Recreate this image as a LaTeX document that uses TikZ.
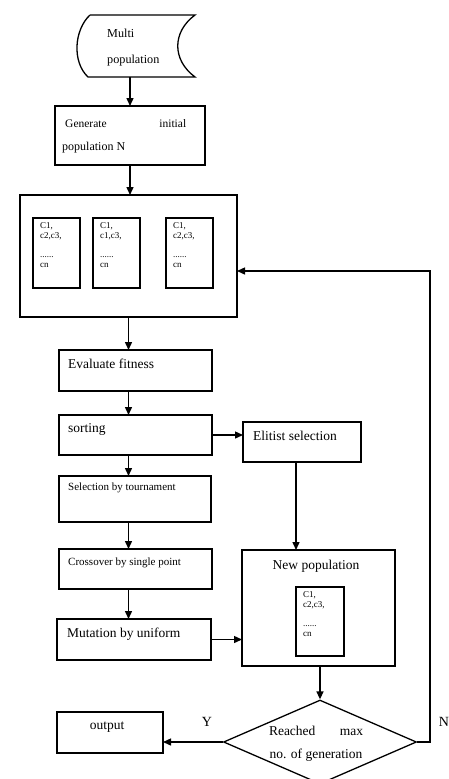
\documentclass[tikz,border=0pt]{standalone}
\usepackage{fontspec}
\setmainfont{Liberation Serif}
\usetikzlibrary{arrows.meta,shapes.geometric,calc}
\begin{document}
\begin{tikzpicture}[x=1pt,y=-1pt,
 box/.style={draw, line width=1.3pt, anchor=north west, inner sep=0pt, outer sep=0pt},
 lbl/.style={anchor=west, inner sep=0pt, font=\fontsize{13.5}{16}\selectfont},
 small/.style={anchor=west, inner sep=0pt, font=\fontsize{11}{13}\selectfont},
 arr/.style={line width=1.4pt, -{Triangle[length=8pt,width=7pt]}},
 tinytext/.style={anchor=north west, inner sep=0pt, align=left, font=\fontsize{9}{10.5}\selectfont}]
\useasboundingbox (0,0) rectangle (448,779);

% Multi population (stored data shape)
\draw[line width=1.3pt] (90,15) -- (195,15) .. controls (172,32) and (172,60) .. (195,77) -- (88,77) .. controls (72,62) and (74,30) .. (90,15);
\coordinate (multiS) at (130,77);
\node[anchor=west, inner sep=0pt, font=\fontsize{12.2}{14}\selectfont] (multit1) at (107,33) {Multi};
\node[anchor=west, inner sep=0pt, font=\fontsize{12.2}{14}\selectfont] (multit2) at (107,61) {population};

% Generate initial population
\node[box, minimum width=150pt, minimum height=59pt] (gen) at (55,106) {};
\node[anchor=west, inner sep=0pt, text width=121pt, font=\fontsize{11.5}{13}\selectfont] (gent1) at (65,124) {Generate \hfill initial};
\node[anchor=west, inner sep=0pt, font=\fontsize{12}{14}\selectfont] (gent2) at (62,148) {population N};

% Population box with chromosomes
\node[box, minimum width=217pt, minimum height=122pt] (big) at (20,195) {};
\node[box, line width=1.2pt, minimum width=47pt, minimum height=70pt] (c1) at (33,218) {};
\node[box, line width=1.2pt, minimum width=47pt, minimum height=70pt] (c2) at (93,218) {};
\node[box, line width=1.2pt, minimum width=47pt, minimum height=70pt] (c3) at (166,218) {};
\node[tinytext] (c1t) at (40,222) {C1,\\c2,c3,\\[8pt]......\\cn};
\node[tinytext] (c2t) at (100,222) {C1,\\c1,c3,\\[8pt]......\\cn};
\node[tinytext] (c3t) at (173,222) {C1,\\c2,c3,\\[8pt]......\\cn};

% Left column
\node[box, minimum width=153pt, minimum height=41pt] (eval) at (59,350) {};
\node[lbl] (evalt) at (68,364) {Evaluate fitness};
\node[box, minimum width=153pt, minimum height=40pt] (sort) at (59,415) {};
\node[lbl] (sortt) at (68,429) {sorting};
\node[box, minimum width=152pt, minimum height=46pt] (sel) at (59,476) {};
\node[small] (selt) at (68,488) {Selection by tournament};
\node[box, minimum width=153pt, minimum height=40pt] (cross) at (59,549) {};
\node[small] (crosst) at (68,563) {Crossover by single point};
\node[box, minimum width=154pt, minimum height=41pt] (mut) at (57,619) {};
\node[lbl] (mutt) at (67,634) {Mutation by uniform};

% Right column
\node[box, minimum width=118pt, minimum height=40pt] (elit) at (243,422) {};
\node[lbl] (elitt) at (253,436) {Elitist selection};
\node[box, minimum width=153pt, minimum height=116pt] (newpop) at (242,550) {};
\node[lbl, anchor=center] (newpopt) at (316,566) {New population};
\node[box, line width=1.2pt, minimum width=48pt, minimum height=69pt] (npc) at (296,587) {};
\node[tinytext] (npct) at (303,591) {C1,\\c2,c3,\\[8pt]......\\cn};

% Decision and output
\node[draw, line width=1.3pt, diamond, aspect=2.3, minimum width=193pt, minimum height=84pt, inner sep=0pt] (dec) at (320,742) {};
\node[lbl, anchor=center, text width=94pt] (dect1) at (316,731) {Reached \hfill max};
\node[lbl, anchor=center] (dect2) at (316,755) {no. of generation};
\node[box, minimum width=106pt, minimum height=41pt] (out) at (57,712) {};
\node[lbl, anchor=center] (outt) at (107,727) {output};
\node[lbl, anchor=center, font=\fontsize{14}{16}\selectfont] (ylab) at (207,722) {Y};
\node[lbl, anchor=center, font=\fontsize{14}{16}\selectfont] (nlab) at (444,722) {N};

% Connectors
\draw[arr] (multiS) -- (multiS |- gen.north);
\draw[arr] (gen.south) -- (gen.south |- big.north);
\draw[arr] (big.south) -- (big.south |- eval.north);
\draw[arr] (big.south |- eval.south) -- (big.south |- sort.north);
\draw[arr] (big.south |- sort.south) -- (big.south |- sel.north);
\draw[arr] (big.south |- sel.south) -- (big.south |- cross.north);
\draw[arr] (big.south |- cross.south) -- (big.south |- mut.north);
\draw[arr] (sort.east) -- (sort.east -| elit.west);
\draw[arr] (elit.south -| npc.west) -- (npc.west |- newpop.north);
\draw[arr] (mut.east) -- (mut.east -| newpop.west);
\draw[arr] (newpop.south -| dec.north) -- (dec.north);
\draw[arr] (dec.west) -- (dec.west -| out.east);
\coordinate (loopR) at (430,742);
\coordinate (loopT) at (430,271);
\draw[arr] (dec.east) -- (loopR) -- (loopT) -- (loopT -| big.east);
\end{tikzpicture}
\end{document}
